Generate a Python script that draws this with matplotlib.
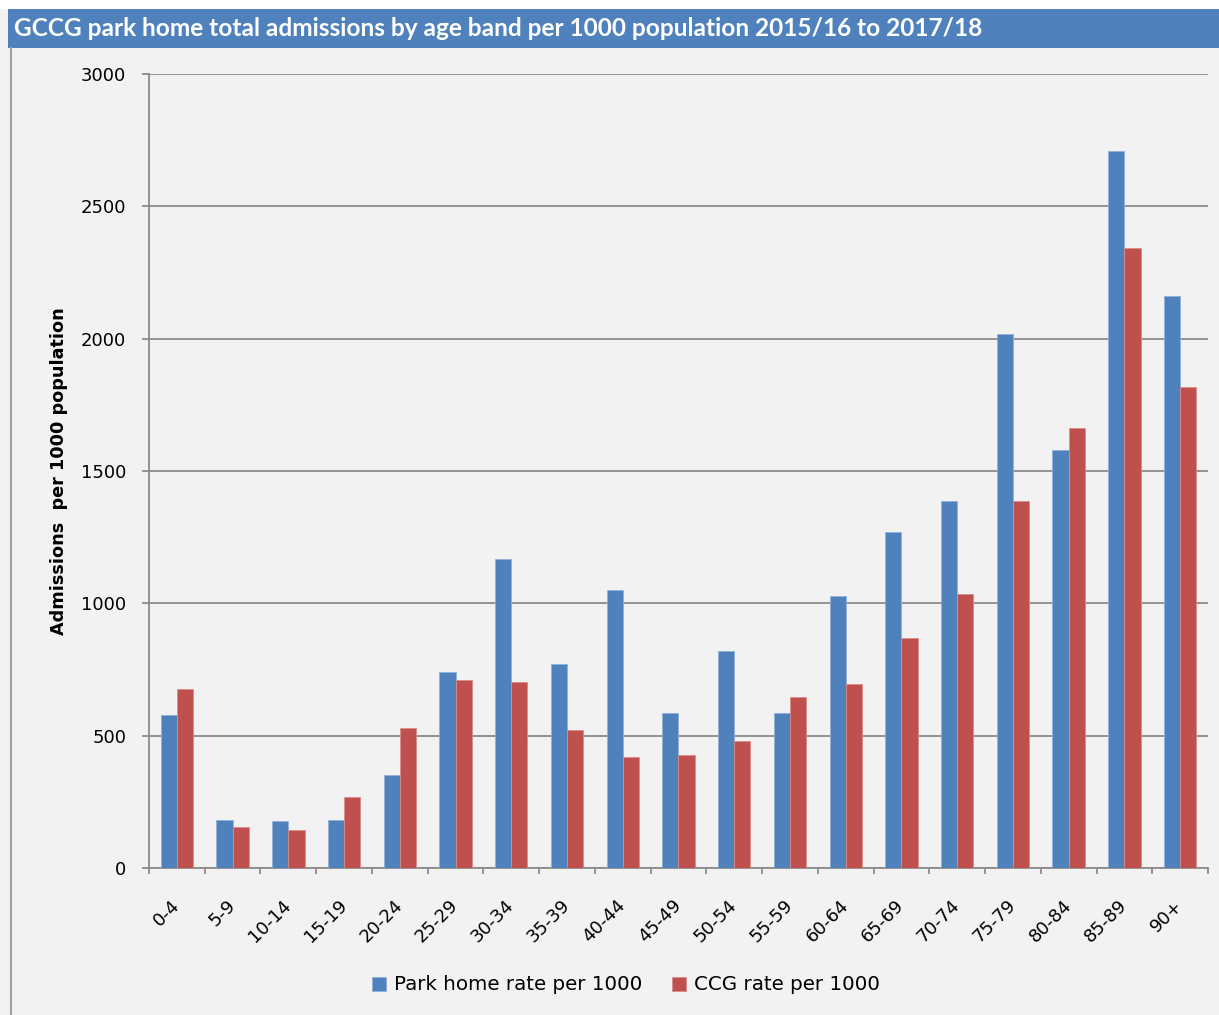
import numpy as np
import matplotlib.pyplot as plt
from matplotlib.patches import Rectangle
from matplotlib.lines import Line2D

plt.rcParams['font.family'] = ['DejaVu Sans']

# age bands and rates
age_bands = ['0-4', '5-9', '10-14', '15-19', '20-24', '25-29', '30-34', '35-39',
             '40-44', '45-49', '50-54', '55-59', '60-64', '65-69', '70-74',
             '75-79', '80-84', '85-89', '90+']
park_home = [578, 183, 177, 183, 351, 739, 1167, 771, 1050, 586, 820, 586,
             1028, 1269, 1386, 2017, 1579, 2709, 2161]
ccg = [677, 156, 142, 268, 530, 711, 703, 521, 419, 427, 480, 646,
       695, 869, 1035, 1386, 1662, 2342, 1817]

title = 'GCCG park home total admissions by age band per 1000 population 2015/16 to 2017/18'
blue = '#4F81BD'
red = '#C0504D'
bg = '#F2F2F2'
grid_col = '#8C8C8C'

fig = plt.figure(figsize=(12.19, 10.15), dpi=100)
fig.patch.set_facecolor(bg)

# white strip on top, blue title bar, thin left border
fig.patches.append(Rectangle((0, 1 - 9 / 1015), 1, 9 / 1015, transform=fig.transFigure,
                             facecolor='white', edgecolor='none', zorder=0))
fig.patches.append(Rectangle((8 / 1219, 1 - 48 / 1015), 1, 39 / 1015, transform=fig.transFigure,
                             facecolor=blue, edgecolor='none', zorder=1))
fig.lines.append(Line2D([10.5 / 1219, 10.5 / 1219], [0, 1 - 48 / 1015], transform=fig.transFigure,
                        color='#A0A0A0', lw=1.5))
fig.text(14 / 1219, 1 - 28 / 1015, title, color='white', fontsize=17.6, fontweight='bold',
         family='Lato', va='center', ha='left')

ax = fig.add_axes([149 / 1219, 1 - 868 / 1015, (1208 - 149) / 1219, (868 - 74) / 1015])
ax.set_facecolor(bg)

x = np.arange(len(age_bands))
w = 0.29
ax.bar(x - w / 2, park_home, w, color=blue, edgecolor='#8FB0DA', linewidth=0.6,
       label='Park home rate per 1000', zorder=3)
ax.bar(x + w / 2, ccg, w, color=red, edgecolor='#DA8C8A', linewidth=0.6,
       label='CCG rate per 1000', zorder=3)

ax.set_xlim(-0.5, len(age_bands) - 0.5)
ax.set_ylim(0, 3000)
ax.set_yticks(range(0, 3001, 500))
ax.yaxis.grid(True, color=grid_col, lw=1.3)
ax.set_axisbelow(True)

# tick marks between bands, labels at band centres
ax.set_xticks(np.arange(-0.5, len(age_bands), 1))
ax.set_xticklabels([])
ax.set_xticks(x, minor=True)
ax.set_xticklabels(age_bands, minor=True, rotation=45, ha='right', va='center',
                   rotation_mode='anchor', fontsize=13)
ax.tick_params(axis='x', which='minor', length=0, pad=25)
ax.tick_params(axis='x', which='major', length=4.5, width=1.3, color=grid_col)
ax.tick_params(axis='y', length=5, width=1.3, color=grid_col, labelsize=13, pad=11.5)

for s in ['top', 'right']:
    ax.spines[s].set_visible(False)
for s in ['left', 'bottom']:
    ax.spines[s].set_color(grid_col)
    ax.spines[s].set_linewidth(1.3)

fig.text(59 / 1219, 1 - 471 / 1015, 'Admissions  per 1000 population', rotation=90,
         fontsize=12.7, fontweight='bold', va='center', ha='center')

fig.legend(loc='center', bbox_to_anchor=(626 / 1219, 1 - 985 / 1015), ncol=2, frameon=False,
           fontsize=14.3, handlelength=0.7, handleheight=0.7, handletextpad=0.4, columnspacing=1.5)

fig.savefig('out.png', dpi=100, facecolor=fig.get_facecolor())
